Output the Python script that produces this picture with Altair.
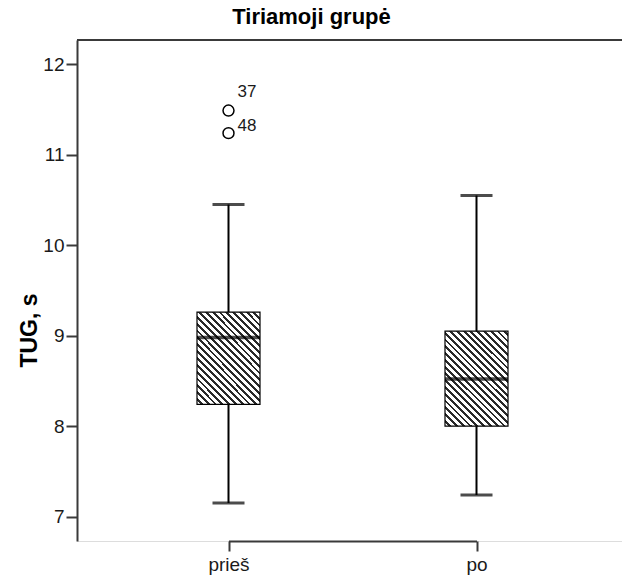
import altair as alt
import pandas as pd

# ---- data ----
groups = ["prieš", "po"]
q1 = [8.24, 8.00]
median = [8.98, 8.52]
q3 = [9.26, 9.05]
whisk_lo = [7.15, 7.24]
whisk_hi = [10.45, 10.55]

out_group = ["prieš", "prieš"]
out_value = [11.49, 11.24]
out_label = ["37", "48"]

title_text = "Tiriamoji grupė"
y_title = "TUG, s"
y_ticks = [7, 8, 9, 10, 11, 12]

box_df = pd.DataFrame({"group": groups, "q1": q1, "median": median, "q3": q3,
                       "lo": whisk_lo, "hi": whisk_hi})
out_df = pd.DataFrame({"group": out_group, "value": out_value, "label": out_label})

W, H = 545, 501
FONT = "Liberation Sans"


def hatch(w, h, period=4.8, dark="#2a2a2a", light="#ffffff", frac=0.42):
    s = (w + h) / (w * w + h * h)
    L = (w + h) / 2 ** 0.5
    n = L / period
    stops = []
    k = 0
    while k < n:
        a = k / n
        b = min((k + 1 - frac) / n, 1)
        c = min((k + 1) / n, 1)
        stops += [{"offset": a, "color": light}, {"offset": b, "color": light},
                  {"offset": b, "color": dark}, {"offset": c, "color": dark}]
        k += 1
    return {"gradient": "linear", "x1": 0, "y1": 1, "x2": s * w, "y2": 1 - s * h,
            "stops": stops}


y_scale = alt.Scale(domain=[6.73, 12.27], nice=False, zero=False)
x_scale = alt.Scale(type="point", domain=groups, range=[151.5, 399.5], padding=0)

x_enc = alt.X("group:N", scale=x_scale, sort=groups,
              axis=alt.Axis(title=None, labelAngle=0, tickSize=10, labelPadding=4,
                            labelFontSize=19, labelFont=FONT, labelColor="#1a1a1a",
                            domainColor="#3a3a3a", domainWidth=2, tickColor="#3a3a3a",
                            tickWidth=2))

base = alt.Chart(box_df)

whisk = base.mark_rule(color="black", strokeWidth=2).encode(
    x=x_enc,
    y=alt.Y("lo:Q", scale=y_scale,
            axis=alt.Axis(values=y_ticks, format="d", title=y_title, titleFontSize=23,
                          titleFont=FONT, titleFontWeight="bold", titleColor="black",
                          titleX=-36, titleY=290, titleAngle=-90,
                          labelFontSize=19, labelFont=FONT, labelColor="#1a1a1a",
                          tickSize=11, labelPadding=2, grid=False,
                          domainColor="#3a3a3a", domainWidth=2,
                          tickColor="#3a3a3a", tickWidth=2)),
    y2="hi:Q",
)

caps_lo = base.mark_tick(color="black", thickness=3, size=32, orient="horizontal").encode(
    x=x_enc, y=alt.Y("lo:Q", scale=y_scale))
caps_hi = base.mark_tick(color="black", thickness=3, size=32, orient="horizontal").encode(
    x=x_enc, y=alt.Y("hi:Q", scale=y_scale))

boxes = base.mark_bar(size=63, stroke="black", strokeWidth=1.2).encode(
    x=x_enc,
    y=alt.Y("q1:Q", scale=y_scale),
    y2="q3:Q",
    fill=alt.condition(alt.datum.group == "prieš",
                       alt.value(hatch(63, 91.3)), alt.value(hatch(63, 95.2))),
)

med = base.mark_tick(color="black", thickness=3.5, size=63, orient="horizontal").encode(
    x=x_enc, y=alt.Y("median:Q", scale=y_scale))

obase = alt.Chart(out_df)
pts = obase.mark_point(shape="circle", filled=False, color="black", size=120,
                       strokeWidth=1.5, opacity=1).encode(
    x=x_enc, y=alt.Y("value:Q", scale=y_scale))

lab_top = obase.transform_filter(alt.datum.label == out_label[0]).mark_text(
    align="left", baseline="bottom", dx=9, dy=-10, fontSize=17, font=FONT,
    color="#1a1a1a").encode(x=x_enc, y=alt.Y("value:Q", scale=y_scale), text="label:N")
lab_oth = obase.transform_filter(alt.datum.label != out_label[0]).mark_text(
    align="left", baseline="bottom", dx=9, dy=2, fontSize=17, font=FONT,
    color="#1a1a1a").encode(x=x_enc, y=alt.Y("value:Q", scale=y_scale), text="label:N")

top_line = alt.Chart(box_df).mark_rule(color="#3a3a3a", strokeWidth=2).encode(
    x=alt.value(0), x2=alt.value(W), y=alt.value(0))

chart = alt.layer(top_line, whisk, caps_lo, caps_hi, boxes, med, pts, lab_top, lab_oth).properties(
    width=W, height=H,
    title=alt.TitleParams(title_text, font=FONT, fontSize=22, fontWeight="bold",
                          color="black", anchor="middle", dx=-38, offset=10),
    autosize=alt.AutoSizeParams(type="none"),
    padding={"left": 77, "top": 40, "right": 0, "bottom": 38},
).configure_view(stroke=None).configure(background="white")

chart.save("out.html", embed_options={"renderer": "svg", "actions": False})
